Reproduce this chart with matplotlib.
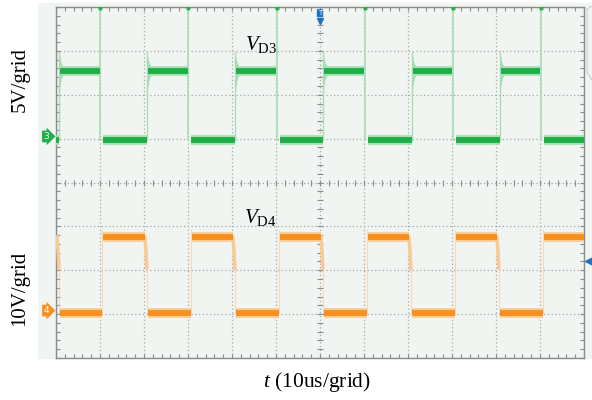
import numpy as np
import matplotlib
matplotlib.use('Agg')
import matplotlib.pyplot as plt
from matplotlib.patches import Rectangle

# scope screen: 12 grids x 10 us, 8 grids vertical (values in grids from centre)
# edge times (us)
d3_rise = [0.7, 20.7, 40.7, 60.7, 80.9, 100.9]
d3_fall = [10.0, 30.0, 50.2, 70.2, 90.2, 110.2]
d4_rise = [10.5, 30.7, 50.7, 70.7, 90.7, 110.7]
d4_fall = [0.2, 20.2, 40.2, 60.2, 80.2, 100.2]

# levels
d3_low, d3_high = 0.98, 2.53
d4_low, d4_high = -2.98, -1.24

# ringing envelope after each D3 rising edge
ring_dt = [0.0, 0.2, 0.5, 0.9, 1.4]
ring_top = [2.98, 2.85, 2.72, 2.64, 2.60]
ring_bot = [1.98, 2.20, 2.36, 2.44, 2.47]

# slow start of each D4 falling edge
tail_dt = [0.0, 0.25, 0.45]
tail_y = [-1.24, -1.55, -1.95]

green, green_lt = '#1fae48', '#a6dfb4'
orange, orange_lt = '#f7901e', '#fbca92'
screen_bg = '#f1f5f2'
grid_c = '#a6a6a6'

plt.rcParams['mathtext.fontset'] = 'custom'
plt.rcParams['mathtext.rm'] = 'Liberation Serif'
plt.rcParams['mathtext.it'] = 'Liberation Serif:italic'

W, H = 592, 400
fig = plt.figure(figsize=(W / 100, H / 100), dpi=100)
fig.patches.append(Rectangle((38 / W, 1 - 358 / H), 1 - 38 / W, 355 / H,
                             transform=fig.transFigure, color=screen_bg, zorder=-10))
# side panel tab at the right edge
fig.lines.append(plt.Line2D([1.0, 587 / W, 587 / W, 592 / W],
                            [1 - 6 / H, 1 - 9 / H, 1 - 72 / H, 1 - 80 / H],
                            transform=fig.transFigure, color='#c8cccb', lw=0.8))

ax = fig.add_axes([56 / W, 1 - 358 / H, 528 / W, 351 / H])
ax.set_zorder(2)
ax.set_facecolor(screen_bg)
ax.set_xlim(0, 120)
ax.set_ylim(-4, 4)
ax.set_xticks(np.arange(0, 121, 10))
ax.set_yticks(np.arange(-4, 5, 1))
ax.set_xticks(np.arange(0, 121, 2), minor=True)
ax.set_yticks(np.arange(-4, 4.01, 0.2), minor=True)
ax.tick_params(which='both', direction='in', top=True, right=True, length=3,
               width=0.8, color='#8c8c8c', labelbottom=False, labelleft=False)
ax.grid(True, which='major', linestyle=(0, (1, 2)), color=grid_c, lw=0.9)
for s in ax.spines.values():
    s.set_color('#8c8c8c')
    s.set_linewidth(1.0)

# ticks on the centre lines
ax.plot(np.arange(0, 121, 2), np.zeros(61), ls='none', marker='|', ms=4,
        color='#8c8c8c', mew=0.8)
ax.plot(np.full(41, 60), np.arange(-4, 4.01, 0.2), ls='none', marker='_', ms=4,
        color='#8c8c8c', mew=0.8)


def band(t0, t1, y, core, fuzz):
    ax.plot([t0, t1], [y, y], color=fuzz, lw=7.0, solid_capstyle='butt', zorder=3)
    ax.plot([t0, t1], [y, y], color=core, lw=4.2, solid_capstyle='butt', zorder=4)


# channel 3 (V_D3)
lows3 = [(0, d3_rise[0])] + list(zip(d3_fall[:-1], d3_rise[1:])) + [(d3_fall[-1], 120)]
for a, b in lows3:
    band(a + (0.6 if a > 0 else 0), b - 0.1, d3_low, green, green_lt)
for a, b in zip(d3_rise, d3_fall):
    band(a + 0.25, b - 0.1, d3_high, green, green_lt)
    ax.plot([a, a], [d3_low, ring_top[0]], color=green_lt, lw=1.0, zorder=3)
    ax.fill_between([a + d for d in ring_dt], ring_bot, ring_top, color=green_lt,
                    lw=0, zorder=3)
    ax.plot([b, b], [d3_low, 4.0], color=green_lt, lw=1.2, zorder=3)
    ax.plot([b], [3.97], marker='o', ms=2, color=green, zorder=4)

# channel 4 (V_D4)
highs4 = list(zip(d4_rise, d4_fall[1:] + [120]))
for a, b in highs4:
    band(a + 0.2, b - 0.05, d4_high, orange, orange_lt)
    ax.plot([a, a], [d4_low, d4_high + 0.15], color=orange_lt, lw=0.7, alpha=0.7,
            zorder=3)
for a, b in zip(d4_fall, d4_rise):
    band(a + 0.6, b - 0.1, d4_low, orange, orange_lt)
    ax.plot([a + d for d in tail_dt], tail_y, color=orange_lt, lw=2.5, zorder=3)
    ax.plot([a + tail_dt[-1]] * 2, [tail_y[-1], d4_low], color=orange_lt, lw=0.7,
            alpha=0.7, zorder=3)

# channel tags and trigger markers
ax.text(-2.2, d3_low + 0.07, '3', fontsize=6.5, color='white', ha='center',
        va='center', bbox=dict(boxstyle='rarrow,pad=0.15', fc=green, ec='none'),
        clip_on=False)
ax.text(-2.2, d4_low + 0.06, '4', fontsize=6.5, color='white', ha='center',
        va='center', bbox=dict(boxstyle='rarrow,pad=0.15', fc=orange, ec='none'),
        clip_on=False)
ax.plot([60], [3.68], marker='v', ms=5, color='#1f6fc4', clip_on=False, zorder=6)
ax.text(60, 3.86, 'T', fontsize=5, color='white', ha='center', va='center',
        bbox=dict(boxstyle='round,pad=0.15', fc='#1f6fc4', ec='none'), zorder=6)
ax.plot([121.2], [-1.8], marker='<', ms=6, color='#1f6fc4', clip_on=False, zorder=6)

# labels
ax.text(46.5, 3.15, r'$V_{\mathrm{D3}}$', fontsize=15, ha='center', va='center')
ax.text(46.5, -0.8, r'$V_{\mathrm{D4}}$', fontsize=15, ha='center', va='center')
fig.text(20 / W, 1 - 80 / H, '5V/grid', rotation=90, ha='center', va='center',
         fontsize=15, family='Liberation Serif')
fig.text(20 / W, 1 - 288 / H, '10V/grid', rotation=90, ha='center', va='center',
         fontsize=15, family='Liberation Serif')
fig.text(317 / W, 1 - 382 / H, r'$t$ (10us/grid)', ha='center', va='center',
         fontsize=15.5, family='Liberation Serif')

fig.savefig('out.png', dpi=100)
